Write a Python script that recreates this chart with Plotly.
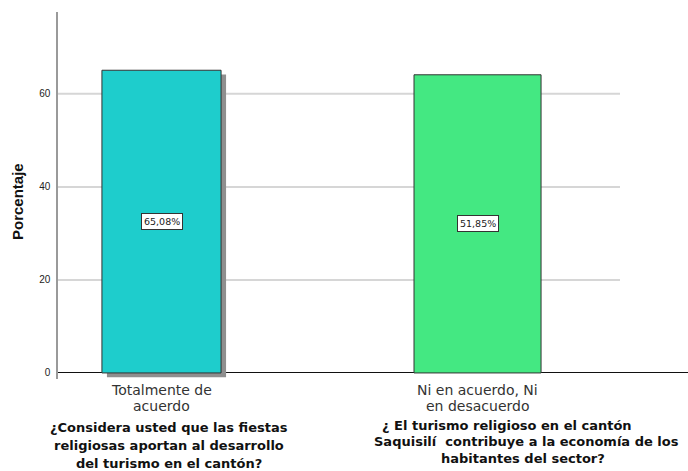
import plotly.graph_objects as go

# ---- data ----
categories = ["Totalmente de<br>acuerdo", "Ni en acuerdo, Ni<br>en desacuerdo"]
values = [65.08, 64.1]
value_labels = ["65,08%", "51,85%"]
questions = [
    ["¿Considera usted que las fiestas", "religiosas aportan al desarrollo", "del turismo en el cantón?"],
    ["¿ El turismo religioso en el cantón", "Saquisilí  contribuye a la economía de los", "habitantes del sector?"],
]
y_ticks = [0, 20, 40, 60]
y_title = "Porcentaje"

# ---- style / layout ----
bar_colors = ["#1ECDCC", "#44E882"]
bar_widths = [0.377, 0.402]
W, H = 688, 471
ML, MT, MB = 58, 12, 92
PW, PH = W - ML, H - MT - MB
SANS = "Liberation Sans, Arial, sans-serif"
WIDE = "DejaVu Sans, Verdana, sans-serif"


def px_x(px):
    return (px - ML) / PW


def px_y(py):
    return (H - MB - py) / PH


cat_label_y = [390, 406]
question_pos = [
    [(169, 427), (169, 446), (169, 463)],
    [(507, 425), (526, 441), (523, 458)],
]

fig = go.Figure()

# shadow for first bar
fig.add_trace(go.Bar(
    x=[categories[0]], y=[values[0]], base=-0.9,
    width=[bar_widths[0]], offset=-bar_widths[0] / 2 + 5 / 316,
    marker=dict(color="#8f8f8f", line=dict(width=0)),
    hoverinfo="skip", showlegend=False,
))
fig.add_trace(go.Bar(
    x=categories, y=values, width=bar_widths,
    marker=dict(color=bar_colors, line=dict(color="#333333", width=1)),
    showlegend=False,
))

for t in y_ticks[1:]:
    fig.add_shape(type="line", xref="paper", yref="y", x0=0, x1=px_x(620), y0=t, y1=t,
                  line=dict(color="#d6d6d6", width=2), layer="below")

for c, v, lab in zip(categories, values, value_labels):
    fig.add_annotation(x=c, y=v / 2, text=lab, showarrow=False,
                       font=dict(family=WIDE, size=9.5, color="#222222"),
                       bgcolor="white", bordercolor="#333333", borderwidth=1, borderpad=2)

# category labels (tight line spacing like the reference)
for c in categories:
    for line, py in zip(c.split("<br>"), cat_label_y):
        fig.add_annotation(x=c, xref="x", yref="paper", y=px_y(py), xanchor="center", yanchor="middle",
                           text=line, showarrow=False,
                           font=dict(family=WIDE, size=14, color="#333333"))

for q, pos in zip(questions, question_pos):
    for line, (qx, qy) in zip(q, pos):
        fig.add_annotation(xref="paper", yref="paper", x=px_x(qx), y=px_y(qy),
                           xanchor="center", yanchor="middle",
                           text="<b>" + line + "</b>", showarrow=False,
                           font=dict(family=WIDE, size=13, color="#111111"))

fig.add_annotation(xref="paper", yref="paper", x=px_x(17), y=px_y(202), xanchor="center", yanchor="middle",
                   text="<b>" + y_title + "</b>",
                   textangle=-90, showarrow=False, font=dict(family=SANS, size=15, color="#111111"))

fig.update_layout(
    width=W, height=H,
    margin=dict(l=ML, r=0, t=MT, b=MB),
    paper_bgcolor="white", plot_bgcolor="white",
    barmode="overlay",
    font=dict(family=SANS),
    xaxis=dict(type="category", categoryarray=categories, range=[-0.3275, 1.666],
               showline=False, showgrid=False, ticks="", showticklabels=False),
    yaxis=dict(range=[-1.3, 77.6], tickvals=y_ticks, showgrid=False,
               zeroline=True, zerolinecolor="#111111", zerolinewidth=1,
               showline=True, linecolor="#9a9a9a", linewidth=1.5,
               ticks="", tickfont=dict(size=10, color="#222222"), ticklabelstandoff=4),
)

fig.write_html("out.html", config={"displayModeBar": False},
               post_script="document.body.style.margin='0';")
